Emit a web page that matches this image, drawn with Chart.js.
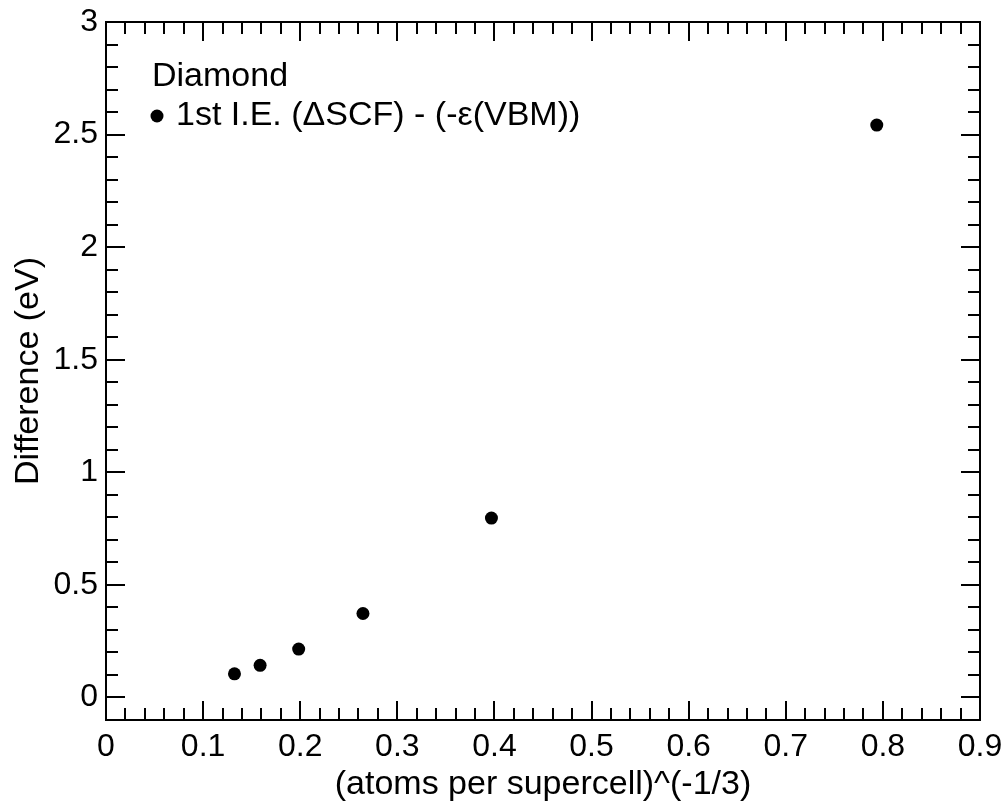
<!DOCTYPE html>
<html>
<head>
<meta charset="utf-8">
<script src="https://cdn.jsdelivr.net/npm/chart.js@4.4.1/dist/chart.umd.min.js"></script>
<style>
  html, body { margin: 0; padding: 0; background: #fff; }
  #wrap { width: 1007px; height: 806px; }
</style>
</head>
<body>
<div id="wrap"><canvas id="c" width="1007" height="806"></canvas></div>
<script>
// Data
const seriesLabel = '1st I.E. (\u0394SCF) - (-\u03b5(VBM))';
const legendTitle = 'Diamond';
const xValues = [0.1323, 0.1587, 0.1984, 0.2646, 0.3969, 0.7937];
const yValues = [0.105, 0.143, 0.215, 0.373, 0.797, 2.542];
const xTickLabels = [0, 0.1, 0.2, 0.3, 0.4, 0.5, 0.6, 0.7, 0.8, 0.9];
const yTickLabels = [0, 0.5, 1, 1.5, 2, 2.5, 3];
const xMinorTicks = [];
for (let i = 0; i <= 45; i++) xMinorTicks.push(+(i * 0.02).toFixed(2));
const yMinorTicks = [];
for (let i = -1; i <= 30; i++) yMinorTicks.push(+(i * 0.1).toFixed(1));

const FONT = "'Liberation Sans', Arial, sans-serif";

const framePlugin = {
  id: 'frame',
  afterDraw(chart) {
    const { ctx, chartArea: a, scales } = chart;
    const xs = scales.x, ys = scales.y;
    ctx.save();
    ctx.strokeStyle = '#000';
    ctx.lineWidth = 2;
    ctx.strokeRect(a.left, a.top, a.right - a.left, a.bottom - a.top);
    ctx.beginPath();
    const isMajX = v => xTickLabels.some(t => Math.abs(t - v) < 1e-6);
    const isMajY = v => yTickLabels.some(t => Math.abs(t - v) < 1e-6);
    xMinorTicks.forEach(v => {
      const px = Math.round(xs.getPixelForValue(v));
      if (px <= a.left + 1 || px >= a.right - 1) return;
      const len = isMajX(v) ? 19 : 12;
      ctx.moveTo(px, a.bottom); ctx.lineTo(px, a.bottom - len);
      ctx.moveTo(px, a.top); ctx.lineTo(px, a.top + len);
    });
    yMinorTicks.forEach(v => {
      const py = Math.round(ys.getPixelForValue(v));
      if (py <= a.top + 1 || py >= a.bottom - 1) return;
      const len = isMajY(v) ? 19 : 12;
      ctx.moveTo(a.left, py); ctx.lineTo(a.left + len, py);
      ctx.moveTo(a.right, py); ctx.lineTo(a.right - len, py);
    });
    ctx.stroke();

    // Legend inside plot
    ctx.fillStyle = '#000';
    ctx.font = '34px ' + FONT;
    ctx.textBaseline = 'middle';
    ctx.textAlign = 'left';
    ctx.fillText(chart.options.plugins.innerLegend.title, 152, 77);
    ctx.beginPath();
    ctx.arc(157, 116, 6.5, 0, Math.PI * 2);
    ctx.fill();
    ctx.fillText(chart.data.datasets[0].label, 176, 116);
    ctx.restore();
  }
};

new Chart(document.getElementById('c'), {
  type: 'scatter',
  data: {
    datasets: [{
      label: seriesLabel,
      data: xValues.map((x, i) => ({ x, y: yValues[i] })),
      backgroundColor: '#000',
      borderColor: '#000',
      pointRadius: 6.5,
      pointHoverRadius: 6.5,
      pointBorderWidth: 0
    }]
  },
  options: {
    responsive: false,
    animation: false,
    layout: { padding: { top: 22, right: 27, left: 0, bottom: 0 } },
    plugins: {
      legend: { display: false },
      tooltip: { enabled: false },
      innerLegend: { title: legendTitle }
    },
    scales: {
      x: {
        type: 'linear',
        min: 0, max: 0.9,
        grid: { display: false, drawTicks: false },
        border: { display: false },
        afterBuildTicks(s) { s.ticks = xTickLabels.map(v => ({ value: v })); },
        afterFit(s) { s.height = 86; s.paddingLeft = 0; s.paddingRight = 0; },
        ticks: {
          color: '#000',
          font: { family: FONT, size: 32 },
          padding: 8,
          maxRotation: 0,
          autoSkip: false,
          callback: v => String(v)
        },
        title: {
          display: true,
          text: '(atoms per supercell)^(-1/3)',
          color: '#000',
          font: { family: FONT, size: 34 },
          padding: { top: 0, bottom: 1 }
        }
      },
      y: {
        type: 'linear',
        min: -0.1, max: 3,
        grid: { display: false, drawTicks: false },
        border: { display: false },
        afterBuildTicks(s) { s.ticks = yTickLabels.map(v => ({ value: v })); },
        afterFit(s) { s.width = 106; s.paddingTop = 0; s.paddingBottom = 0; },
        ticks: {
          color: '#000',
          font: { family: FONT, size: 32 },
          padding: 8,
          autoSkip: false,
          callback: v => String(v)
        },
        title: {
          display: true,
          text: 'Difference (eV)',
          color: '#000',
          font: { family: FONT, size: 34 },
          padding: { top: 8, bottom: 0 }
        }
      }
    }
  },
  plugins: [framePlugin]
});
</script>
</body>
</html>
